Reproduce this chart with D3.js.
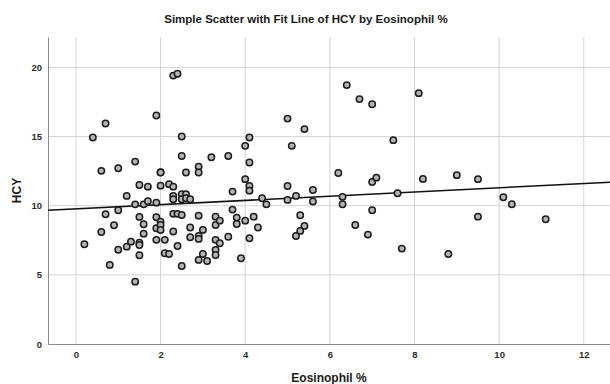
<!DOCTYPE html>
<html>
<head>
<meta charset="utf-8">
<script src="https://cdn.jsdelivr.net/npm/d3@7"></script>
<style>
  body { margin: 0; background: #fff; }
  svg { display: block; font-family: "Liberation Sans", Arial, sans-serif; }
  .grid line { stroke: #d4d4d4; stroke-width: 1; }
  .axis path, .axis line { stroke: #8a8a8a; }
  .axis text { fill: #2b2b2b; font-size: 9.5px; font-weight: bold; }
</style>
</head>
<body>
<svg id="chart"></svg>
<script>
// Eosinophil % (x) and HCY (y)
const eosinophil = [
  0.2, 0.4, 0.6, 0.6, 0.7, 0.7, 0.8, 0.9, 1.0, 1.0, 1.0, 1.2, 1.2, 1.3, 1.4, 1.4, 1.4,
  1.5, 1.5, 1.5, 1.5, 1.5, 1.6, 1.6, 1.6, 1.7, 1.7, 1.9, 1.9, 1.9, 1.9, 1.9,
  2.0, 2.0, 2.0, 2.0, 2.0, 2.0, 2.1, 2.1, 2.2, 2.2, 2.3, 2.3, 2.3, 2.3, 2.3, 2.3,
  2.4, 2.4, 2.4, 2.5, 2.5, 2.5, 2.5, 2.5, 2.5, 2.6, 2.6, 2.6, 2.7, 2.7, 2.7,
  2.9, 2.9, 2.9, 2.9, 2.9, 2.9, 3.0, 3.0, 3.1, 3.2, 3.3, 3.3, 3.3, 3.3, 3.3, 3.4, 3.4,
  3.6, 3.6, 3.7, 3.7, 3.8, 3.8, 3.9, 4.0, 4.0, 4.0, 4.1, 4.1, 4.1, 4.1, 4.1,
  4.2, 4.3, 4.4, 4.5, 5.0, 5.0, 5.0, 5.1, 5.2, 5.2, 5.3, 5.3, 5.4, 5.4, 5.6, 5.6,
  6.2, 6.3, 6.3, 6.4, 6.6, 6.7, 6.9, 7.0, 7.0, 7.0, 7.1, 7.5, 7.6, 7.7,
  8.1, 8.2, 8.8, 9.0, 9.5, 9.5, 10.1, 10.3, 11.1
];
const hcy = [
  7.21, 14.93, 12.52, 8.1, 15.94, 9.38, 5.72, 8.59, 12.71, 9.67, 6.82, 10.71, 7.04, 7.4, 13.19, 10.1, 4.51,
  11.5, 9.19, 7.33, 7.16, 6.42, 10.1, 8.66, 7.98, 11.38, 10.33, 16.52, 10.22, 9.17, 8.37, 7.53,
  12.42, 12.4, 11.45, 8.85, 8.61, 8.25, 7.53, 6.56, 11.56, 6.51, 19.41, 11.38, 10.71, 10.47, 9.41, 8.13,
  19.54, 9.41, 7.09, 15.0, 13.6, 10.83, 10.47, 9.33, 5.64, 12.4, 10.83, 10.54, 10.47, 8.42, 7.72,
  12.83, 12.4, 9.28, 7.81, 7.6, 6.08, 8.25, 6.51, 6.0, 13.5, 9.21, 8.61, 7.53, 6.8, 6.44, 8.92, 7.29,
  13.6, 7.76, 11.02, 9.72, 9.14, 8.68, 6.2, 14.33, 11.92, 8.92, 14.93, 13.12, 11.43, 11.09, 7.65,
  9.21, 8.42, 10.54, 10.1, 16.3, 11.43, 10.42, 14.33, 10.71, 7.81, 9.31, 8.18, 15.54, 8.54, 11.14, 10.3,
  12.37, 10.64, 10.11, 18.72, 8.61, 17.71, 7.91, 17.34, 11.72, 9.67, 12.03, 14.74, 10.9, 6.9,
  18.14, 11.94, 6.51, 12.21, 11.92, 9.21, 10.61, 10.11, 9.02
];
const xTicks = [0, 2, 4, 6, 8, 10, 12];
const yTicks = [0, 5, 10, 15, 20];
// linear fit line as drawn in the picture
const fitIntercept = 9.77;
const fitSlope = 0.153;

const width = 610, height = 384;
const margin = { top: 37, right: 0, bottom: 40, left: 48 };

const svg = d3.select('#chart').attr('width', width).attr('height', height);

const x = d3.scaleLinear().domain([-0.66, 12.62]).range([margin.left, width - margin.right]);
const y = d3.scaleLinear().domain([0, 22.2]).range([height - margin.bottom, margin.top]);

// gridlines
const grid = svg.append('g').attr('class', 'grid');
grid.selectAll('.gx').data(xTicks).enter().append('line')
    .attr('x1', d => x(d)).attr('x2', d => x(d))
    .attr('y1', y.range()[0]).attr('y2', y.range()[1]);
grid.selectAll('.gy').data(yTicks.filter(d => d > 0)).enter().append('line')
    .attr('x1', x.range()[0]).attr('x2', x.range()[1])
    .attr('y1', d => y(d)).attr('y2', d => y(d));

// axes
const xAxis = d3.axisBottom(x).tickValues(xTicks).tickSize(0).tickPadding(7);
const yAxis = d3.axisLeft(y).tickValues(yTicks).tickSize(0).tickPadding(6);

svg.append('g')
    .attr('class', 'axis x')
    .attr('transform', 'translate(0,' + y(0) + ')')
    .call(xAxis);

svg.append('g')
    .attr('class', 'axis y')
    .attr('transform', 'translate(' + margin.left + ',0)')
    .call(yAxis);

// fit line
const xd = x.domain();
svg.append('line')
    .attr('x1', x(xd[0])).attr('y1', y(fitIntercept + fitSlope * xd[0]))
    .attr('x2', x(xd[1])).attr('y2', y(fitIntercept + fitSlope * xd[1]))
    .attr('stroke', '#111').attr('stroke-width', 1.6);

// points
const pts = eosinophil.map((e, i) => ({ e: e, h: hcy[i] }));
svg.append('g').selectAll('circle').data(pts).enter().append('circle')
    .attr('cx', d => x(d.e))
    .attr('cy', d => y(d.h))
    .attr('r', 3.2)
    .attr('fill', '#b4b4b4')
    .attr('stroke', '#1c1c1c')
    .attr('stroke-width', 1.5);

// titles
svg.append('text')
    .attr('x', 306).attr('y', 23)
    .attr('text-anchor', 'middle')
    .style('font-size', '11.5px').style('font-weight', 'bold').style('fill', '#1a1a1a')
    .text('Simple Scatter with Fit Line of HCY by Eosinophil %');

svg.append('text')
    .attr('x', (margin.left + width - margin.right) / 2).attr('y', 382)
    .attr('text-anchor', 'middle')
    .style('font-size', '12px').style('font-weight', 'bold').style('fill', '#1a1a1a')
    .text('Eosinophil %');

svg.append('text')
    .attr('transform', 'translate(21,' + ((margin.top + height - margin.bottom) / 2) + ') rotate(-90)')
    .attr('text-anchor', 'middle')
    .style('font-size', '12px').style('font-weight', 'bold').style('fill', '#1a1a1a')
    .text('HCY');
</script>
</body>
</html>
